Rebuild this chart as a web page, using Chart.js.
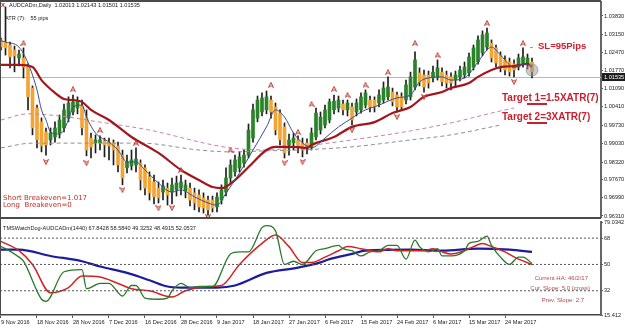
<!DOCTYPE html>
<html>
<head>
<meta charset="utf-8">
<title>AUDCADm Daily</title>
<script src="https://cdn.jsdelivr.net/npm/chart.js@4.4.1/dist/chart.umd.min.js"></script>
<style>
  html, body { margin: 0; padding: 0; background: #fff; }
  #frame { position: relative; width: 625px; height: 330px; overflow: hidden; background: #fff; }
  #main { position: absolute; left: 0; top: 0; }
  #osc { position: absolute; left: 0; top: 217px; }
  .txt { position: absolute; white-space: pre; line-height: 1; font-family: "Liberation Sans", Arial, sans-serif; }
  .small { font-size: 5.6px; color: #222; }
  .big { font-size: 10px; font-weight: bold; color: #c8202e; }
  .be { font-family: "DejaVu Sans", sans-serif; font-size: 7px; color: #c4302c; }
  .ha { font-size: 6px; color: #b24a47; }
  .rule { position: absolute; background: #4a4a4a; }
  .ul { position: absolute; height: 2px; background: #c8202e; }
</style>
</head>
<body>
<div id="frame">
  <canvas id="main" width="625" height="219"></canvas>
  <canvas id="osc" width="625" height="113"></canvas>

  <div class="rule" style="left:0;top:0;width:601px;height:2px;"></div>
  <div class="rule" style="left:0;top:0;width:1px;height:315px;"></div>
  <div class="rule" style="left:0;top:217px;width:601px;height:2px;"></div>

  <div class="txt" style="left:1px;top:1px;font-size:7px;font-weight:bold;color:#b33;">x</div>
  <div class="txt small" style="left:9px;top:3px;">AUDCADm,Daily  1.02013 1.02143 1.01501 1.01535</div>
  <div class="txt small" style="left:5px;top:16px;">ATR (7):   55 pips</div>

  <div class="rule" style="left:530px;top:47px;width:3px;height:1px;background:#999;"></div>
  <div class="txt big" style="left:538px;top:41px;font-size:9.5px;">SL=95Pips</div>
  <div class="txt big" style="left:502px;top:93px;">Target 1=1.5XATR(7)</div>
  <div class="ul" style="left:527px;top:103px;width:20px;"></div>
  <div class="txt big" style="left:502px;top:112px;">Target 2=3XATR(7)</div>
  <div class="ul" style="left:527px;top:122px;width:20px;"></div>

  <div class="txt be" style="left:3px;top:195px;">Short Breakeven=1.017</div>
  <div class="txt be" style="left:3px;top:202px;">Long  Breakeven=0</div>

  <div class="txt small" style="left:3px;top:226px;">TMSWatchDog-AUDCADm(1440) 67.8428 58.5840 49.3252 48.4915 52.0537</div>
  <div class="txt ha" style="right:37px;top:275px;">Current HA: 46/2/17</div>
  <div class="txt ha" style="right:35px;top:285px;">Cur. Slope: 5.0 (cross)</div>
  <div class="txt ha" style="right:41px;top:297px;">Prev. Slope: 2.7</div>
</div>

<script>
// x axis: one unit per daily bar, 4.5 px per bar
const xMin = -0.2222;
const xMax = 133.3333;
const xTickIdx = [0, 8, 16, 24, 32, 40, 48, 56, 64, 72, 80, 88, 96, 104, 112];
const xTickLabels = ["9 Nov 2016", "18 Nov 2016", "28 Nov 2016", "7 Dec 2016", "16 Dec 2016", "28 Dec 2016", "9 Jan 2017",
  "18 Jan 2017", "27 Jan 2017", "6 Feb 2017", "15 Feb 2017", "24 Feb 2017", "6 Mar 2017", "15 Mar 2017", "24 Mar 2017"];

const priceMin = 0.96272;
const priceMax = 1.04356;
const priceTicks = [1.0383, 1.0315, 1.0247, 1.0177, 1.0109, 1.0041, 0.9973, 0.9903, 0.9832, 0.9767, 0.9699, 0.9631];
const lastPrice = 1.01535;

// Heiken Ashi candles, bar 0 = 9 Nov 2016
const haOpen = [1.0293, 1.0285, 1.0274, 1.0255, 1.0225, 1.0225, 1.0195, 1.0112, 1.0037, 0.9985,
  0.9947, 0.9917, 0.9928, 0.9943, 0.9962, 0.9999, 1.0022, 1.0037, 1.0045, 0.9999,
  0.9924, 0.9906, 0.9906, 0.9913, 0.9909, 0.9906, 0.9894, 0.9860, 0.9812, 0.9819,
  0.9823, 0.9830, 0.9812, 0.9778, 0.9759, 0.9736, 0.9721, 0.9736, 0.9721, 0.9729,
  0.9736, 0.9725, 0.9736, 0.9718, 0.9710, 0.9699, 0.9691, 0.9691, 0.9665, 0.9691,
  0.9721, 0.9774, 0.9797, 0.9812, 0.9830, 0.9860, 0.9924, 0.9999, 1.0022, 1.0030,
  1.0067, 1.0041, 1.0018, 0.9966, 0.9898, 0.9906, 0.9917, 0.9906, 0.9906, 0.9890,
  0.9928, 0.9954, 0.9973, 0.9992, 1.0030, 1.0037, 1.0052, 1.0030, 1.0041, 1.0022,
  1.0030, 1.0048, 1.0067, 1.0067, 1.0056, 1.0067, 1.0079, 1.0097, 1.0086, 1.0079,
  1.0067, 1.0079, 1.0116, 1.0169, 1.0161, 1.0161, 1.0150, 1.0154, 1.0172, 1.0161,
  1.0154, 1.0142, 1.0154, 1.0161, 1.0169, 1.0191, 1.0210, 1.0244, 1.0266, 1.0281,
  1.0263, 1.0236, 1.0218, 1.0210, 1.0203, 1.0191, 1.0206, 1.0203, 1.0210];
const haHigh = [1.0300, 1.0417, 1.0285, 1.0270, 1.0255, 1.0263, 1.0203, 1.0120, 1.0048, 1.0000,
  0.9962, 0.9962, 0.9985, 1.0011, 1.0052, 1.0079, 1.0086, 1.0079, 1.0067, 1.0030,
  0.9943, 0.9936, 0.9932, 0.9924, 0.9924, 0.9917, 0.9909, 0.9879, 0.9860, 0.9879,
  0.9887, 0.9842, 0.9823, 0.9797, 0.9785, 0.9759, 0.9766, 0.9755, 0.9774, 0.9781,
  0.9785, 0.9766, 0.9755, 0.9736, 0.9729, 0.9718, 0.9706, 0.9706, 0.9718, 0.9748,
  0.9812, 0.9842, 0.9860, 0.9872, 0.9879, 0.9977, 1.0052, 1.0082, 1.0094, 1.0101,
  1.0082, 1.0056, 1.0030, 0.9981, 0.9939, 0.9943, 0.9932, 0.9924, 0.9921, 0.9962,
  1.0037, 1.0022, 1.0048, 1.0071, 1.0086, 1.0082, 1.0067, 1.0067, 1.0056, 1.0071,
  1.0094, 1.0105, 1.0082, 1.0079, 1.0105, 1.0135, 1.0154, 1.0112, 1.0097, 1.0094,
  1.0142, 1.0172, 1.0248, 1.0188, 1.0180, 1.0176, 1.0195, 1.0218, 1.0188, 1.0176,
  1.0169, 1.0176, 1.0195, 1.0210, 1.0244, 1.0274, 1.0308, 1.0327, 1.0338, 1.0293,
  1.0274, 1.0248, 1.0233, 1.0225, 1.0218, 1.0240, 1.0263, 1.0240, 1.0225];
const haLow = [1.0255, 1.0236, 1.0188, 1.0173, 1.0195, 1.0150, 1.0030, 0.9936, 0.9887, 0.9872,
  0.9860, 0.9898, 0.9909, 0.9924, 0.9947, 0.9985, 1.0011, 1.0015, 0.9936, 0.9857,
  0.9849, 0.9868, 0.9879, 0.9853, 0.9842, 0.9823, 0.9797, 0.9748, 0.9793, 0.9804,
  0.9797, 0.9729, 0.9710, 0.9691, 0.9676, 0.9680, 0.9691, 0.9672, 0.9676, 0.9706,
  0.9710, 0.9699, 0.9669, 0.9654, 0.9646, 0.9642, 0.9635, 0.9646, 0.9646, 0.9676,
  0.9706, 0.9755, 0.9781, 0.9797, 0.9815, 0.9849, 0.9909, 0.9985, 1.0007, 1.0015,
  0.9999, 0.9936, 0.9898, 0.9849, 0.9860, 0.9879, 0.9868, 0.9853, 0.9864, 0.9879,
  0.9917, 0.9939, 0.9962, 0.9981, 1.0015, 1.0022, 1.0011, 1.0007, 0.9973, 1.0007,
  1.0018, 1.0037, 1.0022, 1.0022, 1.0041, 1.0056, 1.0067, 1.0045, 1.0022, 1.0030,
  1.0052, 1.0067, 1.0105, 1.0120, 1.0097, 1.0112, 1.0135, 1.0142, 1.0120, 1.0112,
  1.0105, 1.0120, 1.0139, 1.0150, 1.0157, 1.0180, 1.0202, 1.0233, 1.0255, 1.0210,
  1.0191, 1.0173, 1.0161, 1.0157, 1.0154, 1.0180, 1.0191, 1.0184, 1.0150];
const haClose = [1.0267, 1.0263, 1.0229, 1.0233, 1.0240, 1.0191, 1.0079, 0.9962, 0.9917, 0.9894,
  0.9898, 0.9943, 0.9962, 0.9992, 1.0030, 1.0056, 1.0060, 1.0063, 0.9962, 0.9879,
  0.9890, 0.9917, 0.9917, 0.9898, 0.9894, 0.9879, 0.9823, 0.9774, 0.9834, 0.9842,
  0.9845, 0.9766, 0.9736, 0.9718, 0.9703, 0.9699, 0.9744, 0.9710, 0.9748, 0.9755,
  0.9759, 0.9748, 0.9691, 0.9680, 0.9665, 0.9661, 0.9654, 0.9661, 0.9702, 0.9729,
  0.9774, 0.9823, 0.9842, 0.9853, 0.9860, 0.9954, 1.0030, 1.0067, 1.0075, 1.0079,
  1.0022, 0.9954, 0.9917, 0.9868, 0.9917, 0.9924, 0.9894, 0.9879, 0.9887, 0.9943,
  1.0018, 1.0003, 1.0030, 1.0060, 1.0063, 1.0067, 1.0030, 1.0056, 0.9992, 1.0056,
  1.0079, 1.0094, 1.0041, 1.0041, 1.0086, 1.0112, 1.0116, 1.0060, 1.0041, 1.0041,
  1.0124, 1.0154, 1.0218, 1.0135, 1.0116, 1.0131, 1.0172, 1.0188, 1.0135, 1.0131,
  1.0131, 1.0161, 1.0180, 1.0191, 1.0229, 1.0263, 1.0293, 1.0312, 1.0319, 1.0225,
  1.0206, 1.0188, 1.0180, 1.0173, 1.0180, 1.0225, 1.0229, 1.0225, 1.0173];

// moving averages (bar index, price)
const fastMaIdx = [0, 1, 4, 6, 8, 9, 10, 11, 13, 15, 16, 18, 19, 21, 24, 26, 28, 30, 32, 35, 38, 40, 43, 46, 48, 50,
  53, 56, 59, 61, 63, 65, 67, 69, 72, 75, 78, 80, 84, 88, 91, 93, 95, 98, 100, 103, 106, 108, 109, 111, 113, 114, 116, 118];
const fastMaVal = [1.0290, 1.0285, 1.0266, 1.0206, 1.0105, 1.0030, 0.9992, 0.9947, 0.9939, 0.9992, 1.0041, 1.0048, 1.0003,
  0.9943, 0.9909, 0.9879, 0.9834, 0.9834, 0.9804, 0.9755, 0.9721, 0.9729, 0.9703, 0.9680, 0.9672, 0.9717, 0.9793, 0.9879,
  0.9966, 1.0030, 1.0003, 0.9943, 0.9906, 0.9887, 0.9924, 0.9966, 0.9999, 1.0022, 1.0048, 1.0075, 1.0086, 1.0135, 1.0150,
  1.0154, 1.0142, 1.0150, 1.0210, 1.0255, 1.0266, 1.0236, 1.0199, 1.0188, 1.0203, 1.0191];
const slowMaIdx = [0, 4, 7, 9, 12, 14, 16, 18, 20, 24, 29, 35, 40, 44, 47, 49, 52, 55, 59, 61, 65, 68, 69, 74, 78, 83,
  87, 91, 94, 98, 100, 104, 106, 109, 111, 114, 117, 118];
const slowMaVal = [1.0199, 1.0199, 1.0191, 1.0142, 1.0094, 1.0071, 1.0067, 1.0060, 1.0030, 0.9992, 0.9928, 0.9868, 0.9804,
  0.9766, 0.9740, 0.9736, 0.9766, 0.9815, 0.9879, 0.9891, 0.9891, 0.9887, 0.9898, 0.9928, 0.9966, 0.9984, 1.0018, 1.0041,
  1.0079, 1.0097, 1.0112, 1.0131, 1.0154, 1.0180, 1.0191, 1.0195, 1.0203, 1.0191];
const ma100Idx = [0, 6, 13, 22, 33, 46, 51, 59, 66, 78, 91, 100, 111, 114];
const ma100Val = [0.9992, 1.0015, 1.0007, 0.9984, 0.9954, 0.9902, 0.9887, 0.9879, 0.9891, 0.9917, 0.9951, 0.9981, 1.0026, 1.0037];
const ma200Idx = [0, 7, 22, 31, 44, 51, 59, 66, 78, 91, 100, 111];
const ma200Val = [0.9887, 0.9905, 0.9905, 0.9905, 0.9879, 0.9872, 0.9876, 0.9879, 0.9891, 0.9917, 0.9936, 0.9973];

// fractal arrows
const upIdx = [5, 16, 22, 30, 40, 51, 60, 66, 69, 74, 77, 81, 86, 92, 97, 108, 116];
const upVal = [1.0281, 1.0108, 0.9954, 0.9906, 0.9804, 0.9879, 1.0124, 0.9947, 1.0052, 1.0109, 1.0086, 1.0124, 1.0172,
  1.0281, 1.0236, 1.0357, 1.0281];
const downIdx = [10, 19, 27, 35, 38, 46, 63, 67, 78, 88, 94, 114];
const downVal = [0.9834, 0.9830, 0.9729, 0.9661, 0.9661, 0.9627, 0.9830, 0.9834, 0.9954, 1.0003, 1.0079, 1.0135];
const markIdx = [118];
const markVal = [1.0180];

// TMSWatchDog sub window
const oscMin = 15.412;
const oscMax = 79.0342;
const oscTicks = [15.412, 32, 50, 68, 79.0342];
const oscTickLabels = ["15.412", "32", "50", "68", "79.0342"];
const oscLevels = [68, 50, 32];
const oscFastIdx = [0, 1, 4, 5, 9, 10, 14, 18, 19, 22, 24, 27, 29, 30, 32, 35, 37, 38, 40, 42, 44, 47, 51, 53, 55, 58, 59,
  61, 63, 65, 67, 70, 72, 75, 76, 78, 80, 82, 84, 86, 88, 90, 92, 93, 95, 97, 98, 100, 103, 104, 106, 108, 109, 111, 113,
  115, 116, 118];
const oscFastVal = [62.2, 60.8, 55.0, 52.2, 26.2, 24.8, 45.0, 46.4, 33.4, 37.0, 37.0, 28.4, 35.6, 35.6, 27.0, 26.2, 27.0,
  32.0, 37.0, 34.2, 34.9, 34.9, 57.2, 58.6, 58.6, 75.2, 76.6, 73.0, 50.0, 52.2, 50.0, 59.4, 60.8, 63.0, 60.8, 59.4, 55.8,
  58.6, 59.4, 63.0, 63.0, 53.6, 66.6, 62.2, 58.6, 60.8, 55.8, 55.8, 59.4, 64.4, 65.8, 69.4, 63.0, 55.0, 50.0, 55.0, 55.0, 50.7];
const oscMidIdx = [0, 4, 7, 11, 15, 18, 22, 26, 29, 33, 38, 41, 46, 49, 53, 58, 61, 64, 67, 69, 72, 75, 77, 80, 84, 86,
  88, 91, 94, 96, 98, 100, 103, 105, 107, 109, 112, 115, 118];
const oscMidVal = [65.8, 59.4, 50.0, 30.6, 34.2, 42.1, 41.4, 37.0, 33.4, 32.0, 27.7, 32.0, 34.9, 35.6, 50.0, 64.4, 70.2,
  62.2, 51.4, 51.4, 55.0, 59.4, 62.2, 60.8, 58.6, 60.8, 59.4, 59.4, 59.4, 60.8, 58.6, 57.2, 59.4, 62.2, 64.4, 62.2, 58.6,
  53.6, 50.0];
const oscSlowIdx = [0, 4, 11, 18, 22, 28, 33, 37, 40, 48, 52, 59, 66, 71, 73, 78, 81, 91, 98, 106, 113, 118];
const oscSlowVal = [60.1, 60.1, 55.8, 52.2, 48.6, 44.2, 39.2, 34.9, 34.2, 34.2, 35.6, 44.2, 47.8, 51.4, 53.6, 57.2, 59.4,
  60.1, 59.4, 60.8, 60.1, 58.6];

const FONT = '"Liberation Sans", Arial, sans-serif';
Chart.defaults.font.family = FONT;
Chart.defaults.font.size = 5.6;
Chart.defaults.color = "#222";

function pts(idx, val) {
  return idx.map((x, k) => ({ x, y: val[k] }));
}

function arrowMark(up) {
  const c = document.createElement("canvas");
  c.width = 6;
  c.height = 6;
  const g = c.getContext("2d");
  g.fillStyle = "rgba(235,150,150,0.45)";
  g.strokeStyle = "#c0392f";
  g.lineWidth = 0.9;
  g.beginPath();
  if (up) {
    g.moveTo(3, 0.5); g.lineTo(5.5, 5.5); g.lineTo(3, 3.8); g.lineTo(0.5, 5.5);
  } else {
    g.moveTo(3, 5.5); g.lineTo(5.5, 0.5); g.lineTo(3, 2.2); g.lineTo(0.5, 0.5);
  }
  g.closePath();
  g.fill();
  g.stroke();
  return c;
}

// keep the plot area exactly where the layout padding puts it
function rightAxisFit(width) {
  return (scale) => {
    scale.width = width;
    scale.paddingTop = 0;
    scale.paddingBottom = 0;
  };
}

const priceLine = {
  id: "priceLine",
  beforeDatasetsDraw(chart) {
    const { ctx, chartArea, scales } = chart;
    const y = Math.round(scales.y.getPixelForValue(lastPrice)) + 0.5;
    ctx.save();
    ctx.strokeStyle = "#b8b8b8";
    ctx.lineWidth = 1;
    ctx.beginPath();
    ctx.moveTo(chartArea.left, y);
    ctx.lineTo(chartArea.right, y);
    ctx.stroke();
    ctx.restore();
  },
  afterDraw(chart) {
    const { ctx, chartArea, scales } = chart;
    const y = scales.y.getPixelForValue(lastPrice);
    ctx.save();
    ctx.fillStyle = "#1c1c1c";
    ctx.fillRect(chartArea.right + 1, y - 4, 24, 8);
    ctx.fillStyle = "#fff";
    ctx.font = `5.6px ${FONT}`;
    ctx.textBaseline = "middle";
    ctx.fillText(lastPrice.toFixed(5), chartArea.right + 3, y + 0.5);
    ctx.restore();
  },
};

const candleColors = haOpen.map((o, i) => (haClose[i] >= o ? "#2a832a" : "#f2a435"));
const line = (data, color, width, extra = {}) => ({
  type: "line",
  data,
  borderColor: color,
  borderWidth: width,
  pointRadius: 0,
  cubicInterpolationMode: "monotone",
  ...extra,
});

new Chart(document.getElementById("main"), {
  type: "bar",
  data: {
    datasets: [
      {
        data: haLow.map((l, i) => ({ x: i, y: [l, haHigh[i]] })),
        backgroundColor: "#1e1e1e",
        barThickness: 1,
        grouped: false,
        order: 6,
      },
      {
        data: haOpen.map((o, i) => ({ x: i, y: [o, haClose[i]] })),
        backgroundColor: candleColors,
        barThickness: 3,
        minBarLength: 1,
        grouped: false,
        order: 5,
      },
      line(pts(ma200Idx, ma200Val), "#8f8f8f", 1, { borderDash: [4, 3], order: 4 }),
      line(pts(ma100Idx, ma100Val), "#c683a8", 1, { borderDash: [4, 3], order: 4 }),
      line(pts(slowMaIdx, slowMaVal), "#a3161c", 2.2, { order: 3 }),
      line(pts(fastMaIdx, fastMaVal), "#3d4f8c", 1, { order: 2 }),
      { type: "line", data: pts(upIdx, upVal), showLine: false, pointStyle: arrowMark(true), order: 1 },
      { type: "line", data: pts(downIdx, downVal), showLine: false, pointStyle: arrowMark(false), order: 1 },
      {
        type: "line",
        data: pts(markIdx, markVal),
        showLine: false,
        pointRadius: 6,
        backgroundColor: "rgba(150,150,150,0.5)",
        borderColor: "rgba(130,130,130,0.6)",
        borderWidth: 1,
        order: 0,
      },
    ],
  },
  options: {
    responsive: false,
    animation: false,
    devicePixelRatio: 1,
    events: [],
    layout: { autoPadding: false, padding: { top: 2, bottom: 2, left: 0, right: 0 } },
    plugins: { legend: { display: false }, tooltip: { enabled: false } },
    scales: {
      x: { type: "linear", min: xMin, max: xMax, display: false, offset: false, grid: { offset: false } },
      y: {
        position: "right",
        min: priceMin,
        max: priceMax,
        afterFit: rightAxisFit(24),
        afterBuildTicks: (scale) => {
          scale.ticks = priceTicks.map((value) => ({ value }));
        },
        ticks: { padding: 1, font: { size: 5.6, lineHeight: 0.5 }, callback: (value) => value.toFixed(5) },
        grid: { drawOnChartArea: false, tickLength: 2, color: "#555" },
        border: { color: "#666", width: 2 },
      },
    },
  },
  plugins: [priceLine],
});

new Chart(document.getElementById("osc"), {
  type: "line",
  data: {
    datasets: [
      ...oscLevels.map((lvl) => line([{ x: xMin, y: lvl }, { x: xMax, y: lvl }], "#555", 1, { borderDash: [2, 2] })),
      line(pts(oscFastIdx, oscFastVal), "#2a7a2a", 1.3),
      line(pts(oscMidIdx, oscMidVal), "#d42222", 1.5),
      line(pts(oscSlowIdx, oscSlowVal), "#1c1c9c", 2.2),
    ],
  },
  options: {
    responsive: false,
    animation: false,
    devicePixelRatio: 1,
    events: [],
    layout: { autoPadding: false, padding: { top: 5, bottom: 0, left: 0, right: 0 } },
    plugins: { legend: { display: false }, tooltip: { enabled: false } },
    scales: {
      x: {
        type: "linear",
        min: xMin,
        max: xMax,
        afterFit: (scale) => {
          scale.height = 15;
          scale.paddingLeft = 0;
          scale.paddingRight = 0;
        },
        afterBuildTicks: (scale) => {
          scale.ticks = xTickIdx.map((value) => ({ value }));
        },
        ticks: { align: "start", maxRotation: 0, autoSkip: false, padding: 1, callback: (v, i) => xTickLabels[i] },
        grid: { drawOnChartArea: false, tickLength: 3, color: "#555" },
        border: { color: "#444", width: 1.5 },
      },
      y: {
        position: "right",
        min: oscMin,
        max: oscMax,
        afterFit: rightAxisFit(24),
        afterBuildTicks: (scale) => {
          scale.ticks = oscTicks.map((value) => ({ value }));
        },
        ticks: { padding: 1, callback: (v, i) => oscTickLabels[i] },
        grid: { drawOnChartArea: false, tickLength: 2, color: "#555" },
        border: { color: "#666", width: 2 },
      },
    },
  },
});
</script>
</body>
</html>
